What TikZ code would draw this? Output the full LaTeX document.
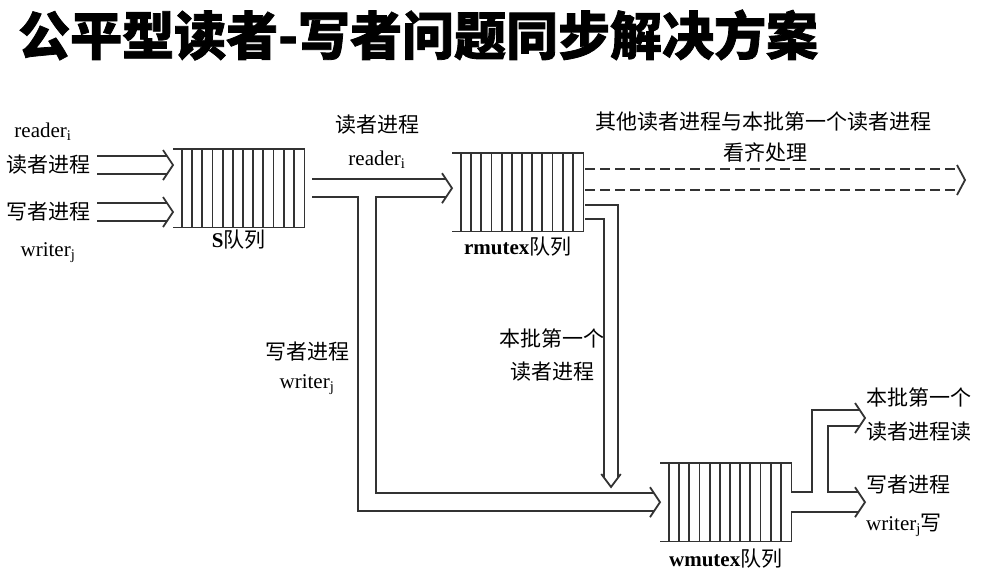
\documentclass[tikz,border=0pt]{standalone}
\usepackage{fontspec}
\setmainfont{Liberation Serif}
\newfontfamily\cjk{Noto Sans CJK SC}
\usetikzlibrary{positioning}

\newcommand{\zh}[1]{{\cjk #1}}

\tikzset{
  qline/.style={draw=black!80, line width=1.8pt},
  queue/.style={minimum width=131pt, minimum height=78pt, inner sep=0pt, anchor=north west},
  pipe/.style={draw=black!80, line width=1.8pt, double=white, double distance=16pt, shorten >=6pt},
  dline/.style={draw=black!80, line width=1.8pt, dash pattern=on 10pt off 5pt, shorten >=6pt},
  lbl/.style={inner sep=1pt, font=\fontsize{21}{23}\selectfont, align=center},
  chev/.pic={\draw[qline] (-10,-15) -- (0,0) -- (-10,15);},
}

\begin{document}
\begin{tikzpicture}[x=1pt, y=-1pt]
  \useasboundingbox (0,0) rectangle (1001,579);

  \node[anchor=west, inner sep=0pt, font=\cjk\bfseries\fontsize{52}{58}\selectfont\addfontfeature{FakeBold=1.5}] (title) at (18,35) {公平型读者-写者问题同步解决方案};

  % queues
  \node[queue] (S) at (173,149) {};
  \node[queue] (rm) at (452,153) {};
  \node[queue] (wm) at (660,463) {};
  \foreach \q in {S, rm, wm} {
    \draw[qline] (\q.north west) -- (\q.north east) -- (\q.south east) -- (\q.south west);
    \foreach \k in {0,...,11}
      \draw[qline] ([xshift=9pt+\k*10.17pt]\q.north west) -- ([xshift=9pt+\k*10.17pt]\q.south west);
  }
  \node[lbl, below=1pt of S] (Slab) {\textbf{S}\zh{队列}};
  \node[lbl, below=4pt of rm] (rmlab) {\textbf{rmutex}\zh{队列}};
  \node[lbl, below=6pt of wm] (wmlab) {\textbf{wmutex}\zh{队列}};

  % labels
  \node[lbl] (rdtop) at (43,132) {reader\textsubscript{i}};
  \node[lbl] (rdin) at (48,165) {\zh{读者进程}};
  \node[lbl] (wrin) at (48,212) {\zh{写者进程}};
  \node[lbl] (wrbot) at (48,253) {writer\textsubscript{j}};
  \node[lbl] (rdmid) at (377,125) {\zh{读者进程}};
  \node[lbl] (rdsub) at (377,160) {reader\textsubscript{i}};
  \node[lbl] (others1) at (763,122) {\zh{其他读者进程与本批第一个读者进程}};
  \node[lbl] (others2) at (765,152) {\zh{看齐处理}};
  \node[lbl] (wrmid) at (307,352) {\zh{写者进程}};
  \node[lbl] (wrsub) at (307,385) {writer\textsubscript{j}};
  \node[lbl] (first1) at (552,338) {\zh{本批第一个}};
  \node[lbl] (first2) at (552,372) {\zh{读者进程}};
  \node[lbl, anchor=west] (rout1) at (865,397) {\zh{本批第一个}};
  \node[lbl, anchor=west] (rout2) at (865,432) {\zh{读者进程读}};
  \node[lbl, anchor=west] (wout1) at (865,485) {\zh{写者进程}};
  \node[lbl, anchor=west] (wout2) at (865,525) {writer\textsubscript{j}\zh{写}};

  % connectors
  \coordinate (fork) at (367,188);
  \coordinate (others) at (965,180);
  \coordinate (d1) at ([shift={(2pt,23pt)}]rm.east);
  \coordinate (d2) at ([shift={(2pt,2pt)}]rm.east);
  \coordinate (first) at (611,487);
  \coordinate (split) at (820,502);
  \coordinate (rdout) at (865,418);

  \draw[pipe] ([xshift=6pt]rdin.east) -- (rdin.east -| S.west);
  \pic at (rdin.east -| S.west) {chev};
  \draw[pipe] ([xshift=6pt]wrin.east) -- (wrin.east -| S.west);
  \pic at (wrin.east -| S.west) {chev};
  \draw[pipe] ([xshift=8pt]S.east) -- (S.east -| rm.west);
  \pic at (S.east -| rm.west) {chev};
  \draw[pipe] (fork) |- (wm.west);
  \pic at (wm.west) {chev};
  \draw[white, line width=16pt] ([xshift=8pt]S.east) -- ([xshift=100pt]S.east);
  \draw[dline] (d1) -- (d1 -| others);
  \draw[dline] (d2) -- (d2 -| others);
  \pic[xscale=0.8] at (others) {chev};
  \draw[pipe, double distance=12pt, shorten >=9pt] ([shift={(2pt,-20pt)}]rm.east) -| (first);
  \pic[rotate=-90, xscale=1.3, yscale=0.65] at (first) {chev};
  \draw[pipe, double distance=18pt] (wm.east) -- (wm.east -| wout1.west);
  \pic at (wm.east -| wout1.west) {chev};
  \draw[pipe, double distance=14pt] (split) |- (rdout);
  \pic at (rdout) {chev};
  \draw[white, line width=18pt] ([xshift=2pt]wm.east) -- ([xshift=45pt]wm.east);
\end{tikzpicture}
\end{document}
